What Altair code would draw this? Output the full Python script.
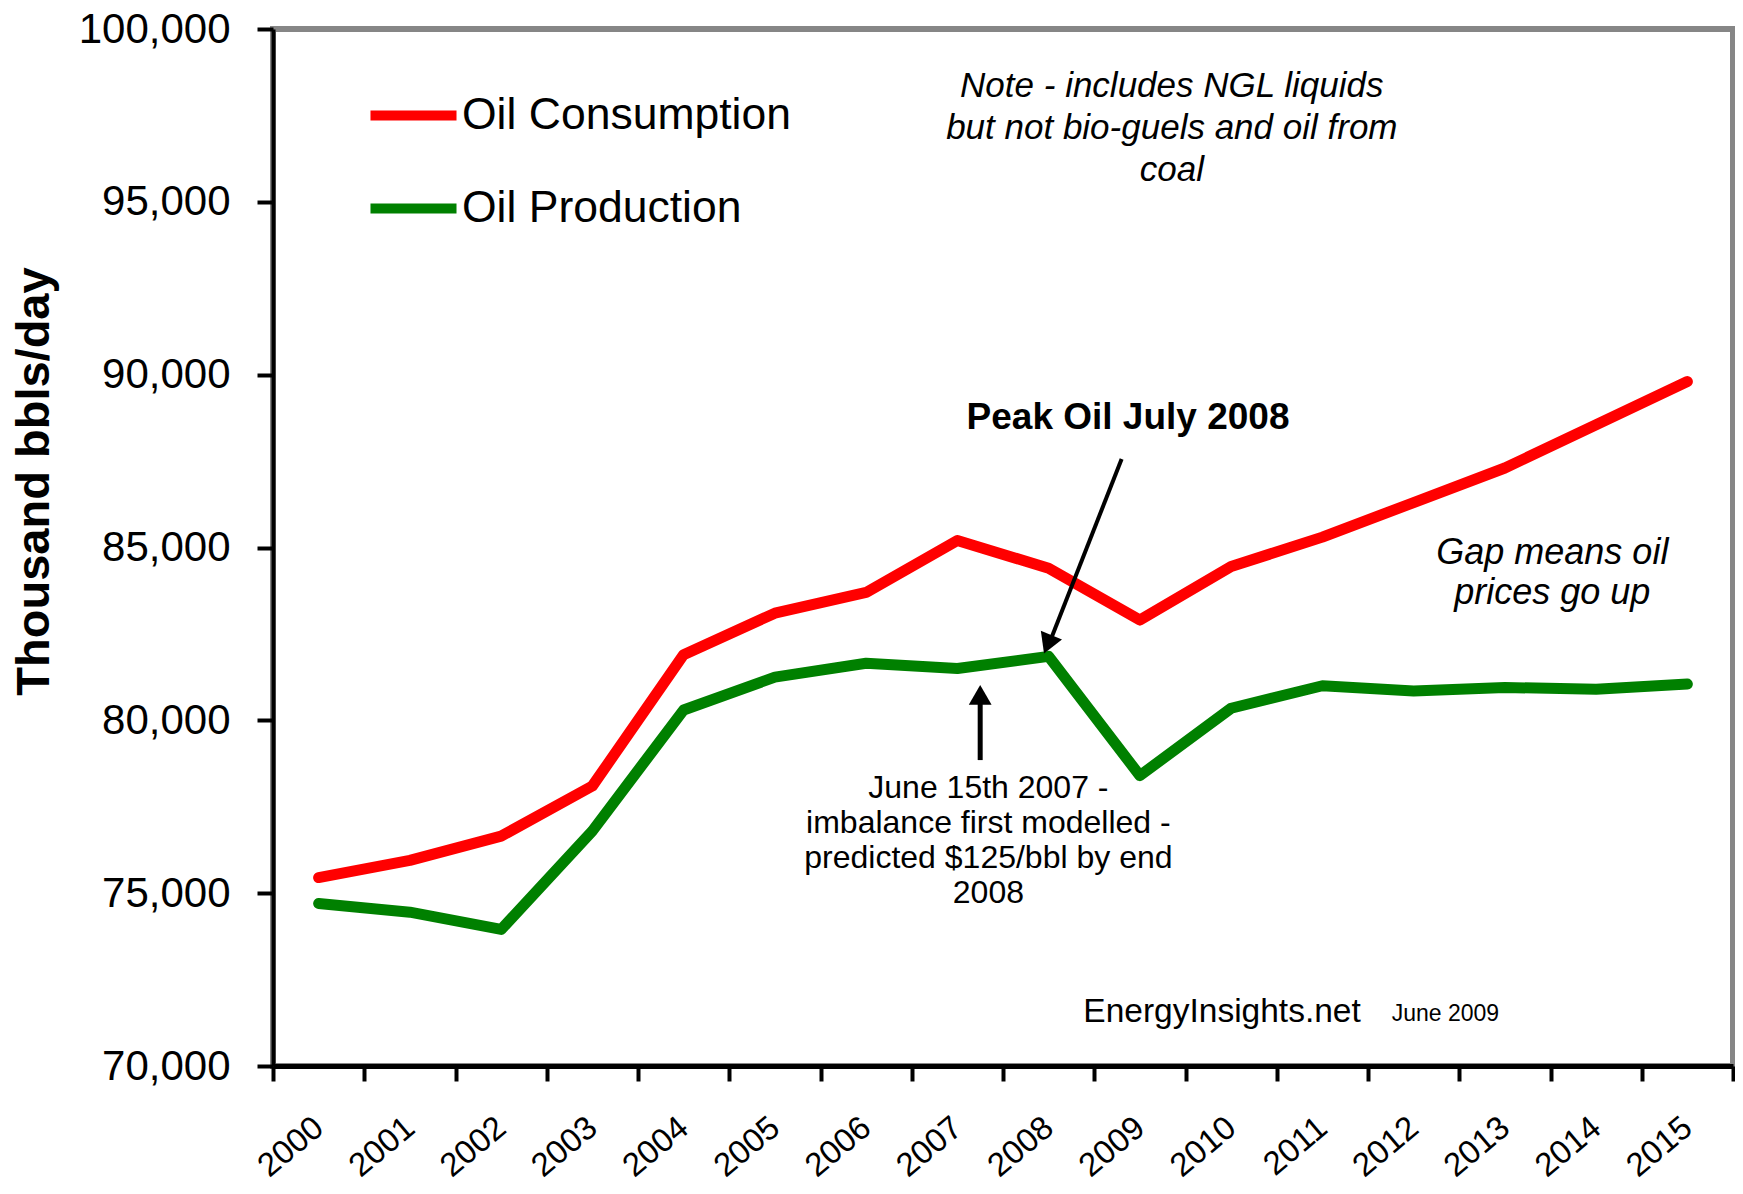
import altair as alt
import pandas as pd

years = list(range(2000, 2016))
consumption = [75450, 75950, 76650, 78100, 81900, 83100, 83700, 85200,
               84400, 82900, 84450, 85300, 86300, 87300, 88550, 89800]
production = [74700, 74450, 73950, 76800, 80300, 81250, 81650, 81500,
              81850, 78400, 80350, 81000, 80850, 80950, 80900, 81050]
series_names = ["Oil Consumption", "Oil Production"]
series_colors = ["#ff0000", "#008000"]
y_ticks = list(range(70000, 100001, 5000))

FONT = "Liberation Sans"
PLOT_W = 1460

rows = []
for yr, c, p in zip(years, consumption, production):
    rows.append({"x": yr, "y": c, "series": series_names[0]})
    rows.append({"x": yr, "y": p, "series": series_names[1]})
df = pd.DataFrame(rows)

# category boundaries (Excel-style ticks between the years)
x_bounds = [yr - 0.5 for yr in years] + [years[-1] + 0.5]

x_scale = alt.Scale(domain=[x_bounds[0], x_bounds[-1]], nice=False, zero=False)
y_scale = alt.Scale(domain=[70000, 100000], nice=False, zero=False)

x_axis = alt.Axis(
    values=x_bounds,
    labelExpr=f"datum.value < {years[-1]} ? format(datum.value + 0.5, 'd') : ''",
    labelOffset=PLOT_W / len(years) / 2,
    labelAngle=-40, labelAlign="right", labelBaseline="middle",
    labelFont=FONT, labelFontSize=33, labelColor="black",
    labelPadding=42, labelOverlap=False,
    tickSize=15, tickWidth=4, tickColor="black",
    domainColor="black", domainWidth=5, grid=False, title=None,
)
y_axis = alt.Axis(
    values=y_ticks, format=",",
    labelExpr="format(datum.value, ',')",
    labelFont=FONT, labelFontSize=42, labelColor="black",
    labelPadding=27, labelFlush=False, labelOverlap=False,
    tickSize=16, tickWidth=4, tickColor="black",
    domainColor="black", domainWidth=4, grid=False,
    title="Thousand bbls/day", titleFont=FONT, titleFontSize=47,
    titleFontWeight="bold", titleColor="black", titleAngle=-90,
    titleX=-215, titleY=452, titleAlign="center", titleBaseline="bottom",
)

X = alt.X("x:Q", scale=x_scale, axis=x_axis)
Y = alt.Y("y:Q", scale=y_scale, axis=y_axis)

lines = alt.Chart(df).mark_line(strokeWidth=11, strokeCap="round", strokeJoin="round").encode(
    x=X, y=Y,
    color=alt.Color("series:N",
                    scale=alt.Scale(domain=series_names, range=series_colors),
                    legend=alt.Legend(
                        orient="none", legendX=92, legendY=38, title=None,
                        symbolType="stroke", symbolSize=7400, symbolStrokeWidth=10,
                        labelFont=FONT, labelFontSize=44.5, labelColor="black",
                        labelOffset=0, rowPadding=23, labelLimit=1000,
                    )),
    order="x:Q",
)


def enc(ch):
    return ch.encode(x=X, y=Y, text="t:N")


# Annotations (data coordinates)
note_df = pd.DataFrame({"x": [2009.35], "y": [98840],
                        "t": ["Note - includes NGL liquids\nbut not bio-guels and  oil from\ncoal"]})
note = enc(alt.Chart(note_df).mark_text(font=FONT, fontSize=35, fontStyle="italic", align="center",
                                        baseline="top", lineBreak="\n", lineHeight=42, color="black"))

peak_df = pd.DataFrame({"x": [2008.87], "y": [88750], "t": ["Peak Oil July 2008"]})
peak = enc(alt.Chart(peak_df).mark_text(font=FONT, fontSize=37, fontWeight="bold", align="center",
                                        baseline="middle", color="black"))

june_df = pd.DataFrame({"x": [2007.34], "y": [78480],
                        "t": ["June 15th 2007 -\nimbalance first modelled -\npredicted $125/bbl by end\n2008"]})
june = enc(alt.Chart(june_df).mark_text(font=FONT, fontSize=32, align="center", baseline="top",
                                        lineBreak="\n", lineHeight=35, color="black"))

gap_df = pd.DataFrame({"x": [2013.52], "y": [85330], "t": ["Gap means oil\nprices go up"]})
gap = enc(alt.Chart(gap_df).mark_text(font=FONT, fontSize=36, fontStyle="italic", align="center",
                                      baseline="top", lineBreak="\n", lineHeight=40, color="black"))

src_df = pd.DataFrame({"x": [2008.38], "y": [71560], "t": ["EnergyInsights.net"]})
src = enc(alt.Chart(src_df).mark_text(font=FONT, fontSize=33.5, align="left", baseline="middle",
                                      color="black"))

date_df = pd.DataFrame({"x": [2011.76], "y": [71500], "t": ["June 2009"]})
date = enc(alt.Chart(date_df).mark_text(font=FONT, fontSize=23, align="left", baseline="middle",
                                        color="black"))

# Arrow shafts
shaft_df = pd.DataFrame({
    "x": [2008.80, 2007.25], "y": [87560, 78850],
    "x2": [2008.00, 2007.25], "y2": [82180, 80590],
    "w": [4, 5],
})
shafts = alt.Chart(shaft_df).mark_rule(color="black").encode(
    x=X, y=Y, x2="x2:Q", y2="y2:Q",
    strokeWidth=alt.StrokeWidth("w:Q", scale=None, legend=None),
)

head_df = pd.DataFrame({"x": [2007.99, 2007.25], "y": [82200, 80740], "a": [202, 0]})
heads = alt.Chart(head_df).mark_point(shape="triangle-up", filled=True, size=520,
                                      color="black", opacity=1).encode(
    x=X, y=Y, angle=alt.Angle("a:Q", scale=None),
)

chart = alt.layer(lines, shafts, heads, note, peak, june, gap, src, date).properties(
    width=PLOT_W, height=1037,
    autosize=alt.AutoSizeParams(type="none"),
    padding={"left": 265, "top": 21, "right": 2, "bottom": 120},
    background="white",
).configure_view(stroke="#868686", strokeWidth=6)

chart.save("out.html", embed_options={"renderer": "svg", "actions": False})
